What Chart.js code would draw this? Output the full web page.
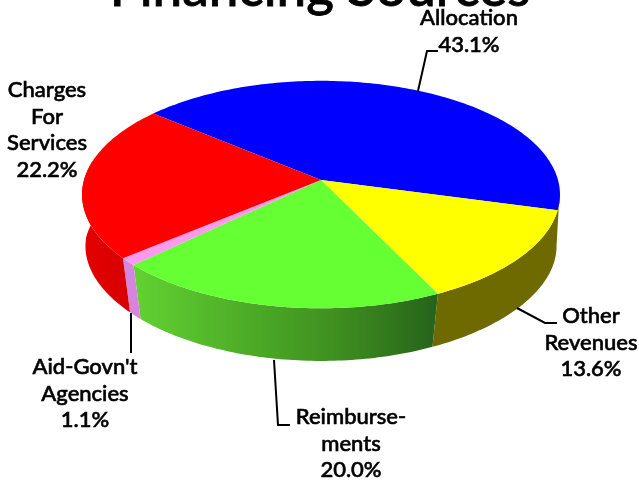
<!DOCTYPE html>
<html>
<head>
<meta charset="utf-8">
<title>Financing Sources</title>
<script src="https://cdn.jsdelivr.net/npm/chart.js@4"></script>
<style>
  html, body { margin: 0; padding: 0; background: #fff; overflow: hidden; }
  #wrap { position: absolute; left: 0; top: 0; width: 639px; height: 480px; }
</style>
</head>
<body>
<div id="wrap"><canvas id="chart"></canvas></div>
<script>
  const titleText = 'Financing Sources';
  const categories = ['Allocation', 'Other Revenues', 'Reimbursements', "Aid-Govn't Agencies", 'Charges For Services'];
  const shares = [43.1, 13.6, 20.0, 1.1, 22.2];
  const topColors = ['#0000ff', '#ffff00', '#66ff33', '#ff99ee', '#ff0000'];
  const labelLines = [['Allocation'], ['Other', 'Revenues'], ['Reimburse-', 'ments'], ["Aid-Govn't", 'Agencies'], ['Charges', 'For', 'Services']];

  // ラベルの位置と引き出し線
  const labelCenters = [[469, 18], [591, 316], [351, 417], [85, 367], [47, 90]];
  const leaders = [
    [[418, 91], [427, 51], [438, 51]],
    [[517, 308], [545, 323], [557, 323]],
    [[274, 360], [278, 425], [290, 425]],
    [[131, 313], [131, 353]],
    [],
  ];

  // 側面の色（左から右へのグラデーション）
  const wallStops = [
    null,
    ['#6e6a00', '#6e6a00'],
    ['#62d232', '#4fb028', '#3f8f20', '#26631a'],
    ['#d585dc', '#d585dc'],
    ['#e40000', '#d80000'],
  ];

  // 遠近のパラメータ
  const PERSP = 0.128;
  const SQUASH = 0.472;
  const LIFT = 60;
  const DEPTH = 56.5;
  const FLOOR_SCALE = 0.97;
  const DEG = Math.PI / 180;
  const WALL_START = 5 * DEG;
  const WALL_END = 190 * DEG;

  function project(arc, a, floor) {
    const u = Math.cos(a), v = Math.sin(a), w = 1 - PERSP * v;
    // 底面は手前ほど少し細くなる
    const sx = floor ? 0.99 - 0.04 * Math.max(v, 0) : 1;
    const sy = floor ? FLOOR_SCALE : 1;
    return [
      arc.x + sx * arc.outerRadius * u / w,
      arc.y - LIFT + (floor ? DEPTH : 0) + sy * arc.outerRadius * SQUASH * v / w,
    ];
  }

  function norm(a) {
    const t = Math.PI * 2;
    return ((a % t) + t) % t;
  }

  function tracePath(ctx, arc, from, to, floor, first) {
    const steps = Math.max(2, Math.ceil(Math.abs(to - from) / DEG));
    for (let i = 0; i <= steps; i++) {
      const p = project(arc, from + (to - from) * i / steps, floor);
      if (i === 0 && first) ctx.moveTo(p[0], p[1]);
      else ctx.lineTo(p[0], p[1]);
    }
  }

  function drawWall(ctx, arc, i, walled) {
    if (!wallStops[i]) return;
    const start = norm(arc.startAngle);
    const end = start + (arc.endAngle - arc.startAngle);
    // 両端のスライスは輪郭まで側面を伸ばす
    const from = i === walled[0] ? WALL_START : start;
    const to = i === walled[walled.length - 1] ? WALL_END : end;
    const a = project(arc, start, false), b = project(arc, Math.min(end, Math.PI), false);
    const g = ctx.createLinearGradient(Math.min(a[0], b[0]), 0, Math.max(a[0], b[0]), 0);
    wallStops[i].forEach((c, n) => g.addColorStop(n / (wallStops[i].length - 1), c));
    ctx.fillStyle = g;
    ctx.beginPath();
    tracePath(ctx, arc, from, to, false, true);
    tracePath(ctx, arc, to, from, true, false);
    ctx.closePath();
    ctx.fill();
  }

  function drawTop(ctx, arc, i) {
    const c = project({ x: arc.x, y: arc.y, outerRadius: 0 }, 0, false);
    ctx.fillStyle = topColors[i];
    ctx.beginPath();
    ctx.moveTo(c[0], c[1]);
    tracePath(ctx, arc, arc.startAngle, arc.endAngle, false, false);
    ctx.closePath();
    ctx.fill();
  }

  function boldText(ctx, text, x, y) {
    ctx.fillText(text, x, y);
    ctx.strokeText(text, x, y);
  }

  const pie3d = {
    id: 'pie3d',
    beforeDatasetDraw(chart, args) {
      const ctx = chart.ctx;
      const arcs = chart.getDatasetMeta(args.index).data;
      const walled = arcs.map((_, i) => i).filter(i => wallStops[i]);
      ctx.save();
      arcs.forEach((arc, i) => drawWall(ctx, arc, i, walled));
      arcs.forEach((arc, i) => drawTop(ctx, arc, i));
      ctx.restore();
      return false;
    },
    afterDraw(chart) {
      const ctx = chart.ctx;
      ctx.save();
      ctx.fillStyle = '#000';
      ctx.strokeStyle = '#000';
      ctx.textAlign = 'center';
      ctx.textBaseline = 'middle';

      // タイトルは上端で切れている
      ctx.lineWidth = 0.8;
      ctx.font = '500 53px Lato, sans-serif';
      boldText(ctx, titleText, 320, -11);

      ctx.lineWidth = 0.6;
      ctx.font = '500 22px Lato, sans-serif';
      labelLines.forEach((lines, i) => {
        const rows = lines.concat(shares[i].toFixed(1) + '%');
        const step = i === 0 ? 27 : 26.5;
        rows.forEach((row, n) => {
          boldText(ctx, row, labelCenters[i][0], labelCenters[i][1] + n * step);
        });
      });

      ctx.lineWidth = 2;
      leaders.forEach(points => {
        if (!points.length) return;
        ctx.beginPath();
        points.forEach((p, n) => (n ? ctx.lineTo(p[0], p[1]) : ctx.moveTo(p[0], p[1])));
        ctx.stroke();
      });
      ctx.restore();
    },
  };

  new Chart(document.getElementById('chart'), {
    type: 'pie',
    data: {
      labels: categories,
      datasets: [{ data: shares, backgroundColor: topColors, borderWidth: 0 }],
    },
    options: {
      responsive: true,
      maintainAspectRatio: false,
      animation: false,
      rotation: -50,
      layout: { padding: { left: 3, top: 3, bottom: 3, right: 0 } },
      plugins: { legend: { display: false }, tooltip: { enabled: false } },
    },
    plugins: [pie3d],
  });
</script>
</body>
</html>
